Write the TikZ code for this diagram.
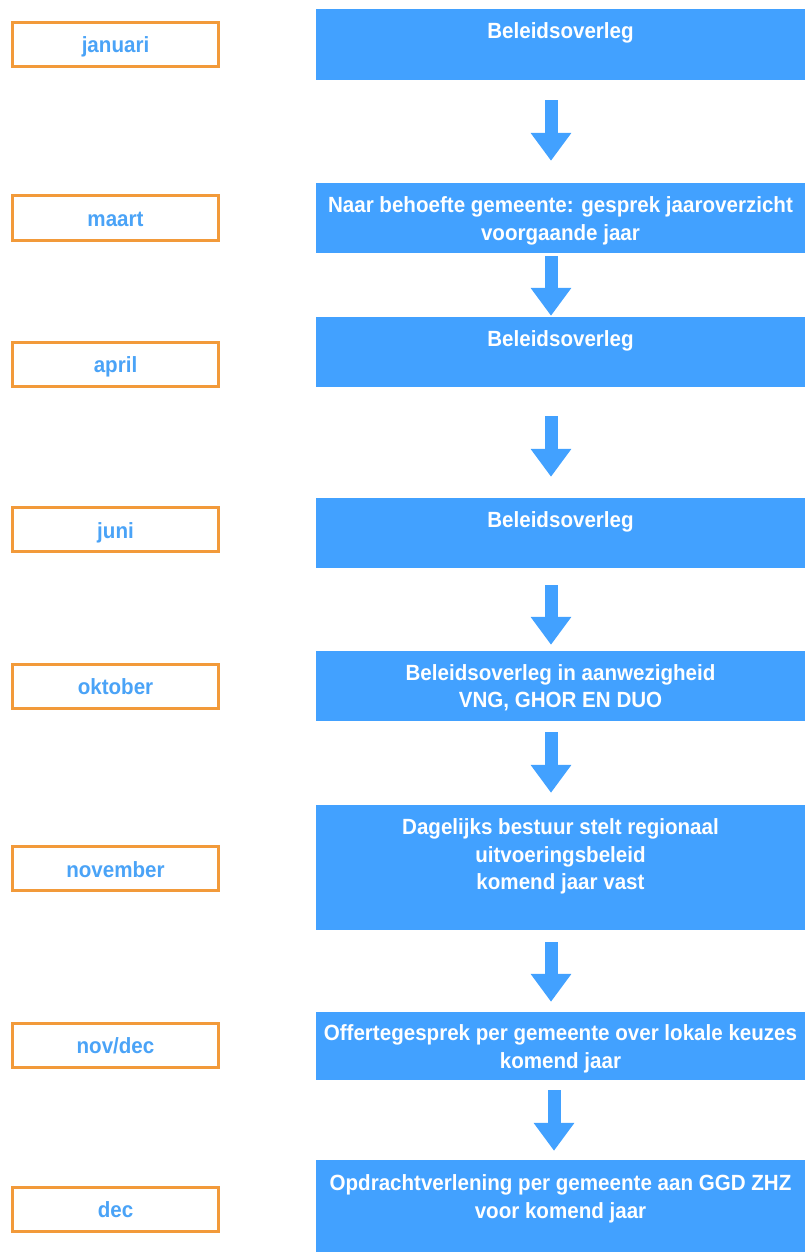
\documentclass[tikz,border=0pt]{standalone}
\usepackage{fontspec}
\setmainfont{Liberation Sans}[FakeStretch=0.935]
\usetikzlibrary{arrows.meta}
\definecolor{boxblue}{RGB}{66,161,255}
\definecolor{monthblue}{RGB}{74,163,247}
\definecolor{monthorange}{RGB}{242,154,58}
\tikzset{
  monthbox/.style={draw=monthorange, line width=3pt, fill=white, minimum width=206pt, minimum height=44pt, inner sep=0pt,
    text height=19pt, text depth=2pt,
    font=\fontsize{22pt}{26pt}\selectfont\bfseries, text=monthblue},
  stepbox/.style={fill=boxblue, draw=none, minimum width=489pt, inner sep=0pt},
  steptext/.style={anchor=north, inner sep=0pt, align=center, text=white,
    font=\fontsize{22pt}{27.5pt}\selectfont\bfseries, execute at begin node=\strut},
  flowarrow/.style={draw=boxblue, line width=13pt, -{Triangle[width=39pt,length=28pt]}}
}
\begin{document}
\begin{tikzpicture}[x=1pt,y=-1pt]
\useasboundingbox (0,0) rectangle (805,1252);
\begin{scope}
\clip (0,0) rectangle (805,1252);
% month boxes
\node[monthbox] (m1) at (115.5,44.5) {januari};
\node[monthbox] (m2) at (115.5,218) {maart};
\node[monthbox] (m3) at (115.5,364) {april};
\node[monthbox] (m4) at (115.5,529.5) {juni};
\node[monthbox] (m5) at (115.5,686) {oktober};
\node[monthbox] (m6) at (115.5,868.5) {november};
\node[monthbox] (m7) at (115.5,1045) {nov/dec};
\node[monthbox] (m8) at (115.5,1209) {dec};
% step boxes
\node[stepbox, minimum height=71pt] (b1) at (560.5,44.5) {};
\node[stepbox, minimum height=70pt] (b2) at (560.5,218) {};
\node[stepbox, minimum height=70pt] (b3) at (560.5,352) {};
\node[stepbox, minimum height=70pt] (b4) at (560.5,533) {};
\node[stepbox, minimum height=70pt] (b5) at (560.5,686) {};
\node[stepbox, minimum height=125pt] (b6) at (560.5,867.5) {};
\node[stepbox, minimum height=68pt] (b7) at (560.5,1046) {};
\node[stepbox, minimum height=94pt] (b8) at (560.5,1207) {};
% step texts
\node[steptext] (t1) at ([yshift=-10pt]b1.north) {Beleidsoverleg};
\node[steptext] (t2) at ([yshift=-14pt]b2.north) {Naar behoefte gemeente: gesprek jaaroverzicht\\voorgaande jaar};
\node[steptext] (t3) at ([yshift=-10.5pt]b3.north) {Beleidsoverleg};
\node[steptext] (t4) at ([yshift=-10pt]b4.north) {Beleidsoverleg};
\node[steptext] (t5) at ([yshift=-13.5pt]b5.north) {Beleidsoverleg in aanwezigheid\\VNG, GHOR EN DUO};
\node[steptext] (t6) at ([yshift=-14pt]b6.north) {Dagelijks bestuur stelt regionaal\\uitvoeringsbeleid\\komend jaar vast};
\node[steptext] (t7) at ([yshift=-13pt]b7.north) {Offertegesprek per gemeente over lokale keuzes\\komend jaar};
\node[steptext] (t8) at ([yshift=-15pt]b8.north) {Opdrachtverlening per gemeente aan GGD ZHZ\\voor komend jaar};
% arrows
\draw[flowarrow] ([xshift=-9.5pt,yshift=-20pt]b1.south) -- ([xshift=-9.5pt,yshift=22pt]b2.north);
\draw[flowarrow] ([xshift=-9.5pt,yshift=-3pt]b2.south) -- ([xshift=-9.5pt,yshift=1pt]b3.north);
\draw[flowarrow] ([xshift=-9.5pt,yshift=-29pt]b3.south) -- ([xshift=-9.5pt,yshift=21pt]b4.north);
\draw[flowarrow] ([xshift=-9.5pt,yshift=-17pt]b4.south) -- ([xshift=-9.5pt,yshift=6pt]b5.north);
\draw[flowarrow] ([xshift=-9.5pt,yshift=-11pt]b5.south) -- ([xshift=-9.5pt,yshift=12pt]b6.north);
\draw[flowarrow] ([xshift=-9.5pt,yshift=-12pt]b6.south) -- ([xshift=-9.5pt,yshift=10pt]b7.north);
\draw[flowarrow] ([xshift=-6.5pt,yshift=-10pt]b7.south) -- ([xshift=-6.5pt,yshift=9pt]b8.north);
\end{scope}
\end{tikzpicture}
\end{document}
